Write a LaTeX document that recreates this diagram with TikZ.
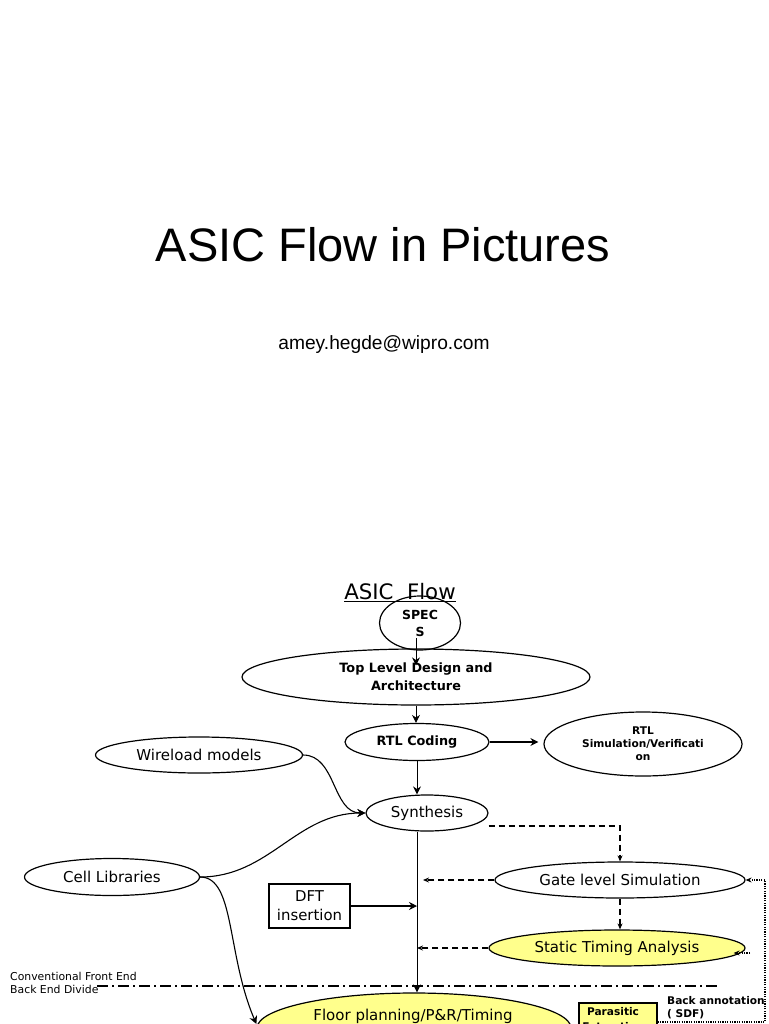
\documentclass[tikz,border=0pt]{standalone}
\usepackage{fontspec}
\setmainfont{DejaVu Sans}
\newfontfamily\arialfont{Liberation Sans}
\usetikzlibrary{shapes.geometric,arrows.meta}
\definecolor{paleyel}{HTML}{FFFF8C}
\tikzset{
  ell/.style={ellipse, draw, line width=1.2pt, inner sep=0pt, align=center},
  regtxt/.style={font=\fontsize{15}{20}\selectfont},
  boldtxt/.style={font=\bfseries\fontsize{12.8}{18}\selectfont},
  arr/.style={line width=1.1pt, -{Stealth[length=8pt,width=8pt]}},
  thinarr/.style={line width=0.9pt, -{Stealth[length=8pt,width=8pt]}},
  dasharr/.style={line width=1.3pt, dash pattern=on 6pt off 4pt, -{Stealth[length=6pt,width=5pt]}},
  dotarr/.style={line width=1.3pt, dash pattern=on 1.2pt off 1.2pt, -{Stealth[length=6pt,width=5pt]}},
  dashdot/.style={line width=1.3pt, dash pattern=on 11pt off 4pt on 2pt off 4pt},
}
\begin{document}
\begin{tikzpicture}[x=1pt,y=-1pt]
\useasboundingbox (0,0) rectangle (768,1024);
\clip (0,0) rectangle (768,1024);

% titles
\node[font=\arialfont\fontsize{47}{56}\selectfont, anchor=base, inner sep=0pt] (title) at (383,261) {ASIC Flow in Pictures};
\node[font=\arialfont\fontsize{19.2}{22}\selectfont, anchor=base, inner sep=0pt] (email) at (384,349) {amey.hegde@wipro.com};
\node[font=\fontsize{21.3}{24}\selectfont, anchor=base, inner sep=0pt] (flowtitle) at (400,599) {\underline{ASIC\ \ Flow}};

% nodes
\node[ell, minimum width=81, minimum height=54, font=\bfseries\fontsize{12.5}{17}\selectfont] (specs) at (420,623) {SPEC\\S};
\node[ell, minimum width=348, minimum height=56, boldtxt] (top) at (416,677) {Top Level Design and\\Architecture};
\node[ell, minimum width=144, minimum height=37, boldtxt] (rtl) at (417,742) {RTL Coding};
\node[ell, minimum width=198, minimum height=64, font=\bfseries\fontsize{10.6}{13}\selectfont] (rtlsim) at (643,744) {RTL\\Simulation/Verificati\\on};
\node[ell, minimum width=122, minimum height=36, regtxt] (synth) at (427,813) {Synthesis};
\node[ell, minimum width=207, minimum height=36, regtxt] (wire) at (199,755) {Wireload models};
\node[ell, minimum width=175, minimum height=37, regtxt] (cell) at (112,877) {Cell Libraries};
\node[draw, line width=1.2pt, minimum width=81, minimum height=44, inner sep=0pt, align=center, font=\fontsize{14.9}{19}\selectfont] (dft) at (309.5,906) {DFT\\insertion};
\node[ell, minimum width=250, minimum height=36, regtxt] (gls) at (620,880) {Gate level Simulation};
\node[ell, minimum width=256, minimum height=36, fill=paleyel, regtxt] (sta) at (617,948) {Static Timing Analysis};
\node[ell, minimum width=314, minimum height=70, fill=paleyel] (floor) at (414,1028) {};
\node[regtxt, anchor=base, inner sep=0pt] (floortxt) at (413,1020) {Floor planning/P\&R/Timing};
\node[draw, line width=1.2pt, fill=paleyel, minimum width=78, minimum height=50, inner sep=0pt] (par) at (618,1028) {};
\node[font=\bfseries\fontsize{10.6}{15}\selectfont, anchor=north, align=center, inner sep=0pt] (partxt) at (613,1007) {Parasitic\\Extraction};
\node[font=\bfseries\fontsize{10.6}{13}\selectfont, anchor=north west, align=left, inner sep=0pt] (backann) at (667,996) {Back annotation\\( SDF)};
\node[font=\fontsize{10.85}{13}\selectfont, anchor=north west, align=left, inner sep=0pt] (divide) at (10,972) {Conventional Front End\\Back End Divide};

% coordinates
\coordinate (dd1) at (97,986);
\coordinate (dd2) at (718,986);
\coordinate (dc) at (765,1022);
\coordinate (stad) at (750,953);
\coordinate (s1) at ([yshift=-15pt]specs.center);
\coordinate (s2) at ([yshift=-17pt]top.north);

% divide line
\draw[dashdot] (dd1) -- (dd2);

% connectors
\draw[thinarr] (s1 -| s2) -- (s2);
\draw[thinarr] (top.south) -- (top.south |- rtl.north);
\draw[arr, shorten >=5pt] (rtl.east) -- (rtl.east -| rtlsim.west);
\draw[thinarr] (rtl.south) -- (rtl.south |- synth.north);
\draw[line width=0.9pt] (rtl.south |- synth.south) -- (rtl.south |- dd1);
\draw[thinarr] (rtl.south |- dd1) -- (rtl.south |- floor.north);
\draw[arr] (wire.east) to[out=0,in=180] (synth.west);
\draw[arr] (cell.east) to[out=0,in=180] (synth.west);
\draw[arr] (cell.east) .. controls +(35,0) and +(-30,-70) .. ([yshift=4pt]floor.west);
\draw[arr] (dft.east) -- (dft.east -| rtl.south);
\draw[dasharr] ([yshift=-13pt]synth.east) -| (gls.north);
\draw[dasharr, shorten >=6pt] (gls.west) -- (gls.west -| rtl.south);
\draw[dasharr] (gls.south) -- (gls.south |- sta.north);
\draw[dasharr] (sta.west) -- (sta.west -| rtl.south);
\draw[dotarr] (par.east |- dc) -- (dc) |- (gls.east);
\draw[dotarr] (stad) -- ([xshift=-12pt,yshift=-5pt]sta.east);
\end{tikzpicture}
\end{document}
